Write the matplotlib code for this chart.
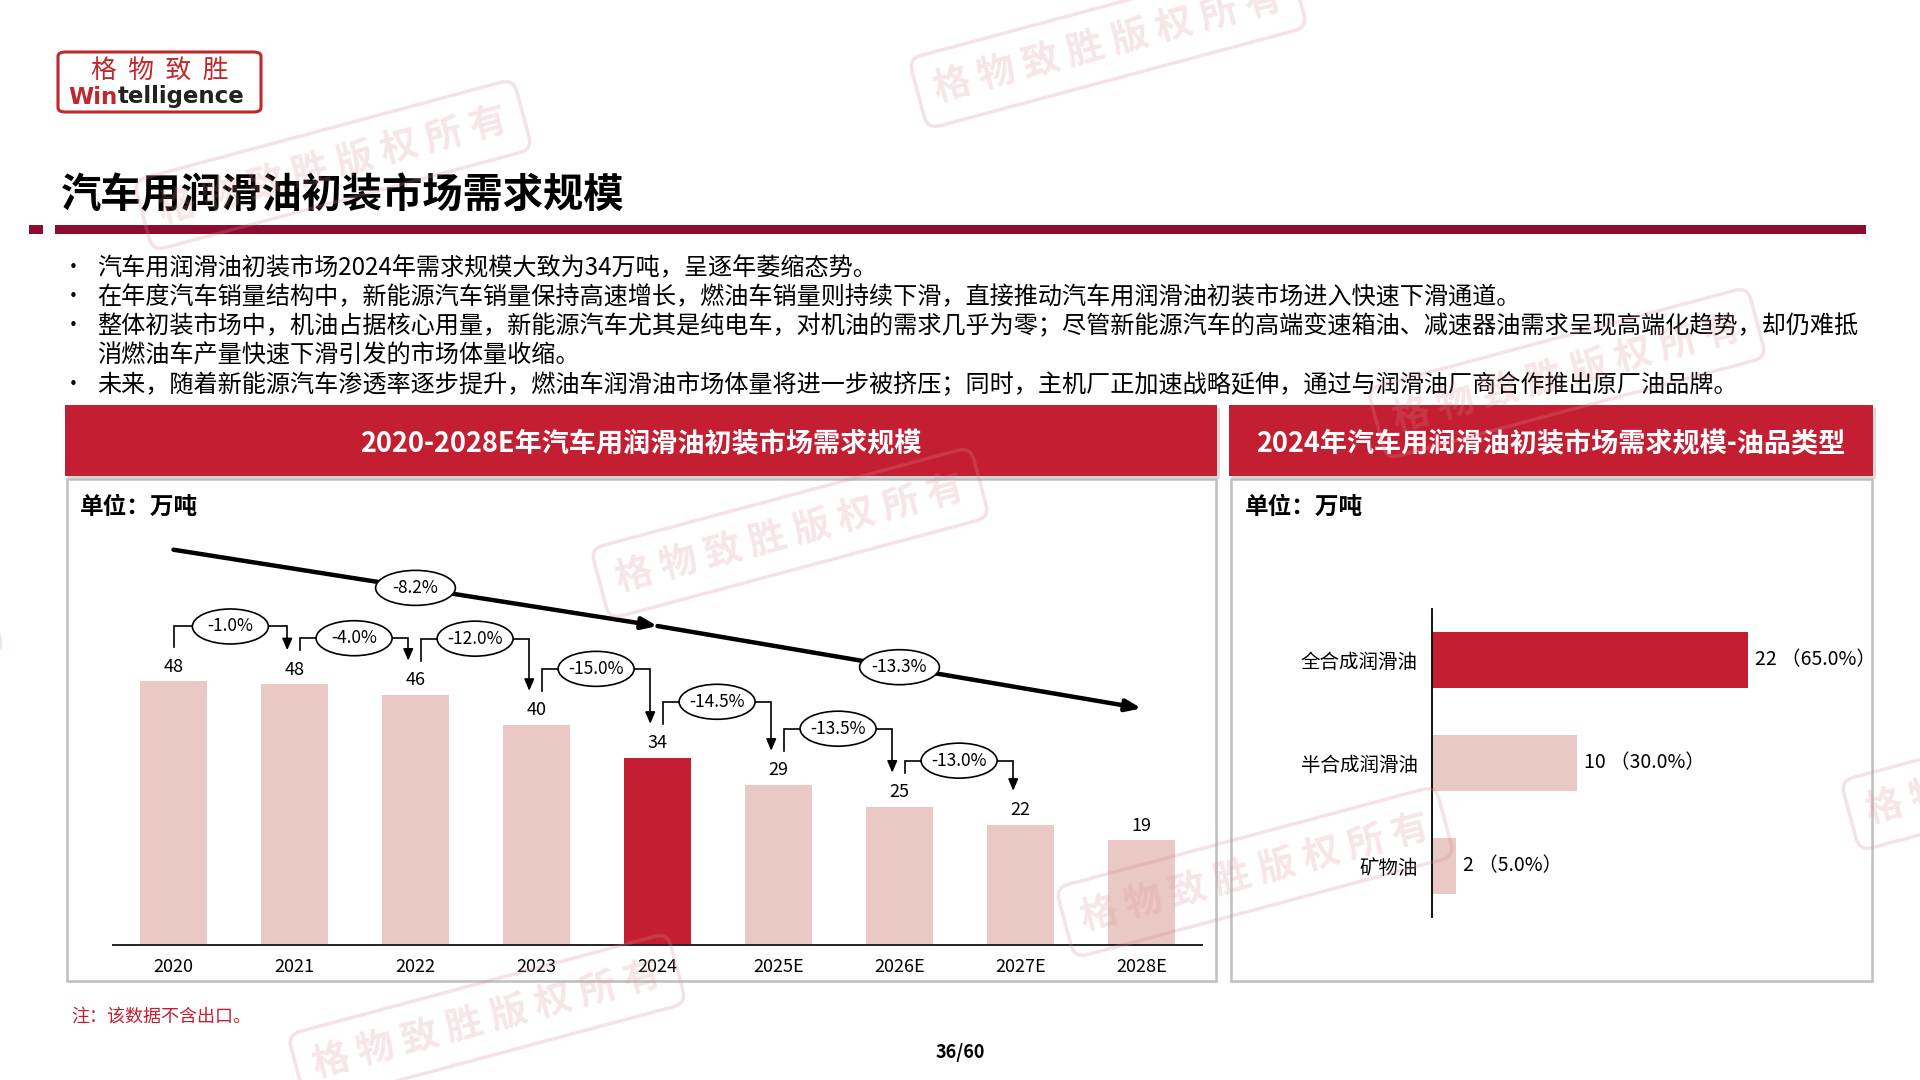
import matplotlib
matplotlib.use('Agg')
import matplotlib.pyplot as plt
from matplotlib.patches import Rectangle, FancyBboxPatch, Ellipse

plt.rcParams['font.family'] = ['Noto Sans CJK SC', 'DejaVu Sans']

# ---------------- data ----------------
years = ['2020', '2021', '2022', '2023', '2024', '2025E', '2026E', '2027E', '2028E']
demand = [48.0, 47.5, 45.6, 40.1, 34.1, 29.2, 25.2, 21.9, 19.1]
yoy_labels = ['-1.0%', '-4.0%', '-12.0%', '-15.0%', '-14.5%', '-13.5%', '-13.0%']
cagr_labels = ['-8.2%', '-13.3%']
highlight_year = '2024'

oil_types = ['全合成润滑油', '半合成润滑油', '矿物油']
oil_volume = [22.1, 10.2, 1.7]
oil_share = [65.0, 30.0, 5.0]

title = '汽车用润滑油初装市场需求规模'
left_title = '2020-2028E年汽车用润滑油初装市场需求规模'
right_title = '2024年汽车用润滑油初装市场需求规模-油品类型'
unit = '单位：万吨'
note = '注：该数据不含出口。'
page = '36/60'
bullets = [
    ['汽车用润滑油初装市场2024年需求规模大致为34万吨，呈逐年萎缩态势。'],
    ['在年度汽车销量结构中，新能源汽车销量保持高速增长，燃油车销量则持续下滑，直接推动汽车用润滑油初装市场进入快速下滑通道。'],
    ['整体初装市场中，机油占据核心用量，新能源汽车尤其是纯电车，对机油的需求几乎为零；尽管新能源汽车的高端变速箱油、减速器油需求呈现高端化趋势，却仍难抵',
     '消燃油车产量快速下滑引发的市场体量收缩。'],
    ['未来，随着新能源汽车渗透率逐步提升，燃油车润滑油市场体量将进一步被挤压；同时，主机厂正加速战略延伸，通过与润滑油厂商合作推出原厂油品牌。'],
]

# ---------------- styles / layout ----------------
RED = '#C41E32'
PINK = '#EAC8C4'
DARKRED = '#8C0B2E'
W, H = 1920, 1080
bracket_lift_px = [55, 46, 56, 56, 56, 56, 46]   # height of each YoY bracket above its start bar

fig = plt.figure(figsize=(19.2, 10.8), dpi=100)
fig.patch.set_facecolor('white')


def fx(x):
    return x / W


def fy(y):
    return 1 - y / H


def rect(x0, y0, x1, y1, **kw):
    fig.patches.append(Rectangle((fx(x0), fy(y1)), (x1 - x0) / W, (y1 - y0) / H,
                                 transform=fig.transFigure, **kw))


# ---------------- logo ----------------
fig.patches.append(FancyBboxPatch((fx(58), fy(112)), 203 / W, 60 / H,
                                  boxstyle='round,pad=0,rounding_size=0.004',
                                  transform=fig.transFigure, fc='white', ec='#C0272D', lw=2.2))
fig.text(fx(160), fy(71), '格  物  致  胜', color='#C0272D', fontsize=18.5, ha='center', va='center')
fig.text(fx(118), fy(97), 'Win', color='#C0272D', fontsize=16.5, fontweight='bold',
         ha='right', va='center', family='DejaVu Sans')
fig.text(fx(118), fy(97), 'telligence', color='#222222', fontsize=16.5, fontweight='bold',
         ha='left', va='center', family='DejaVu Sans')

# ---------------- title ----------------
fig.text(fx(61), fy(196), title, fontsize=29, fontweight='bold', ha='left', va='center')
rect(29, 225, 43, 234, color=DARKRED, lw=0)
rect(55, 225, 1866, 234, color=DARKRED, lw=0)

# ---------------- bullets ----------------
line_y = 268
for para in bullets:
    fig.text(fx(73), fy(line_y), '•', fontsize=15, ha='center', va='center')
    for ln in para:
        fig.text(fx(97), fy(line_y), ln, fontsize=17.4, ha='left', va='center')
        line_y += 29.2

# ---------------- panels ----------------
for (x0, x1, txt) in [(65, 1217, left_title), (1229, 1873, right_title)]:
    rect(x0 + 3, 408, x1 + 3, 479, color='#D9D9D9', lw=0)
    rect(x0, 405, x1, 476, color=RED, lw=0)
    fig.text(fx((x0 + x1) / 2), fy(444), txt, color='white', fontsize=19.5,
             fontweight='bold', ha='center', va='center')
    rect(x0 + 2, 479, x1 - 1, 981, fill=False, ec='#BFBFBF', lw=1.8)

fig.text(fx(80), fy(507), unit, fontsize=17, fontweight='bold', ha='left', va='center')
fig.text(fx(1245), fy(507), unit, fontsize=17, fontweight='bold', ha='left', va='center')

# ---------------- left bar chart ----------------
PX_PER_UNIT = 5.49
ax = fig.add_axes([fx(113), fy(945), (1202 - 113) / W, (945 - 530) / H])
ax.set_xlim(-0.5, len(years) - 0.5)
ax.set_ylim(0, 415 / PX_PER_UNIT)
ax.patch.set_alpha(0)
xs = list(range(len(years)))
colors = [RED if y == highlight_year else PINK for y in years]
ax.bar(xs, demand, width=0.555, color=colors, zorder=2)
for s in ['top', 'right', 'left']:
    ax.spines[s].set_visible(False)
ax.spines['bottom'].set_color('#222222')
ax.spines['bottom'].set_linewidth(1.4)
ax.set_yticks([])
ax.set_xticks(xs)
ax.set_xticklabels(years, fontsize=13)
ax.tick_params(axis='x', length=0, pad=9)

for x, v in zip(xs, demand):
    ax.text(x, v + 14.5 / PX_PER_UNIT, f'{v:.0f}', fontsize=13, ha='center', va='center')

# year-over-year brackets
start_off = 34 / PX_PER_UNIT
ew, eh = 76 / 121, 35 / PX_PER_UNIT
for i, lab in enumerate(yoy_labels):
    x0 = xs[i] + (0.0 if i == 0 else 0.045)
    x1 = xs[i + 1] - 0.06
    yb = demand[i] + start_off
    yh = demand[i] + bracket_lift_px[i] / PX_PER_UNIT
    yt = demand[i + 1] + start_off
    ax.plot([x0, x0, x1, x1], [yb, yh, yh, yt + 1.2], color='black', lw=1.2,
            solid_joinstyle='miter', zorder=3, clip_on=False)
    ax.annotate('', xy=(x1, yt), xytext=(x1, yt + 1.5),
                arrowprops=dict(arrowstyle='-|>,head_length=0.7,head_width=0.3',
                                color='black', lw=1.2, shrinkA=0, shrinkB=0), zorder=3)
    cx = (x0 + x1) / 2
    ax.add_patch(Ellipse((cx, yh), ew, eh, fc='white', ec='black', lw=1.2, zorder=4))
    ax.text(cx, yh, lab, fontsize=12.5, ha='center', va='center', zorder=5)

# CAGR trend arrows
trend_off = 24
seg = [(0, 4), (4, 8)]
for (a, b), lab in zip(seg, cagr_labels):
    ya, yb2 = demand[a] + trend_off, demand[b] + trend_off
    ax.annotate('', xy=(b, yb2), xytext=(a, ya),
                arrowprops=dict(arrowstyle='-|>,head_length=0.9,head_width=0.35',
                                color='black', lw=3.2, shrinkA=0, shrinkB=0), zorder=3)
    mx = (a + b) / 2
    my = (ya + yb2) / 2
    ax.add_patch(Ellipse((mx, my), ew * 1.05, eh, fc='white', ec='black', lw=1.2, zorder=4))
    ax.text(mx, my, lab, fontsize=12.5, ha='center', va='center', zorder=5)

# ---------------- right bar chart ----------------
PX_PER_UNIT_R = 14.3
axr = fig.add_axes([fx(1431.6), fy(917.4), (1860 - 1431.6) / W, (917.4 - 608.6) / H])
axr.set_xlim(0, (1860 - 1431.6) / PX_PER_UNIT_R)
axr.set_ylim(len(oil_types) - 0.5, -0.5)
axr.patch.set_alpha(0)
ys = list(range(len(oil_types)))
rcolors = [RED] + [PINK] * (len(oil_types) - 1)
axr.barh(ys, oil_volume, height=0.545, color=rcolors, zorder=2)
for s in ['top', 'right', 'bottom']:
    axr.spines[s].set_visible(False)
axr.spines['left'].set_color('#111111')
axr.spines['left'].set_linewidth(1.4)
axr.set_xticks([])
axr.set_yticks(ys)
axr.set_yticklabels(oil_types, fontsize=14)
axr.tick_params(axis='y', length=0, pad=10)
for y, v, p in zip(ys, oil_volume, oil_share):
    axr.text(v + 7 / PX_PER_UNIT_R, y, f'{v:.0f} （{p:.1f}%）', fontsize=14,
             ha='left', va='center')

# ---------------- footer ----------------
fig.text(fx(71), fy(1017), note, color=RED, fontsize=13, ha='left', va='center')
fig.text(fx(960), fy(1053), page, fontsize=13, fontweight='bold', ha='center', va='center')

# ---------------- watermarks ----------------
wm_text = '格 物 致 胜 版 权 所 有'
for (wx, wy) in [(1108, 43), (333, 165), (790, 533), (1567, 373),
                 (1255, 872), (487, 1019), (2040, 765), (-196, 667)]:
    fig.text(fx(wx), fy(wy), wm_text, fontsize=27, fontweight='bold', rotation=15,
             rotation_mode='anchor', ha='center', va='center', color=(0.85, 0.55, 0.58, 0.22),
             bbox=dict(boxstyle='round,pad=0.45,rounding_size=0.35', fc='none',
                       ec=(0.85, 0.55, 0.58, 0.25), lw=2.5), zorder=10)

fig.savefig('out.png', dpi=100)
